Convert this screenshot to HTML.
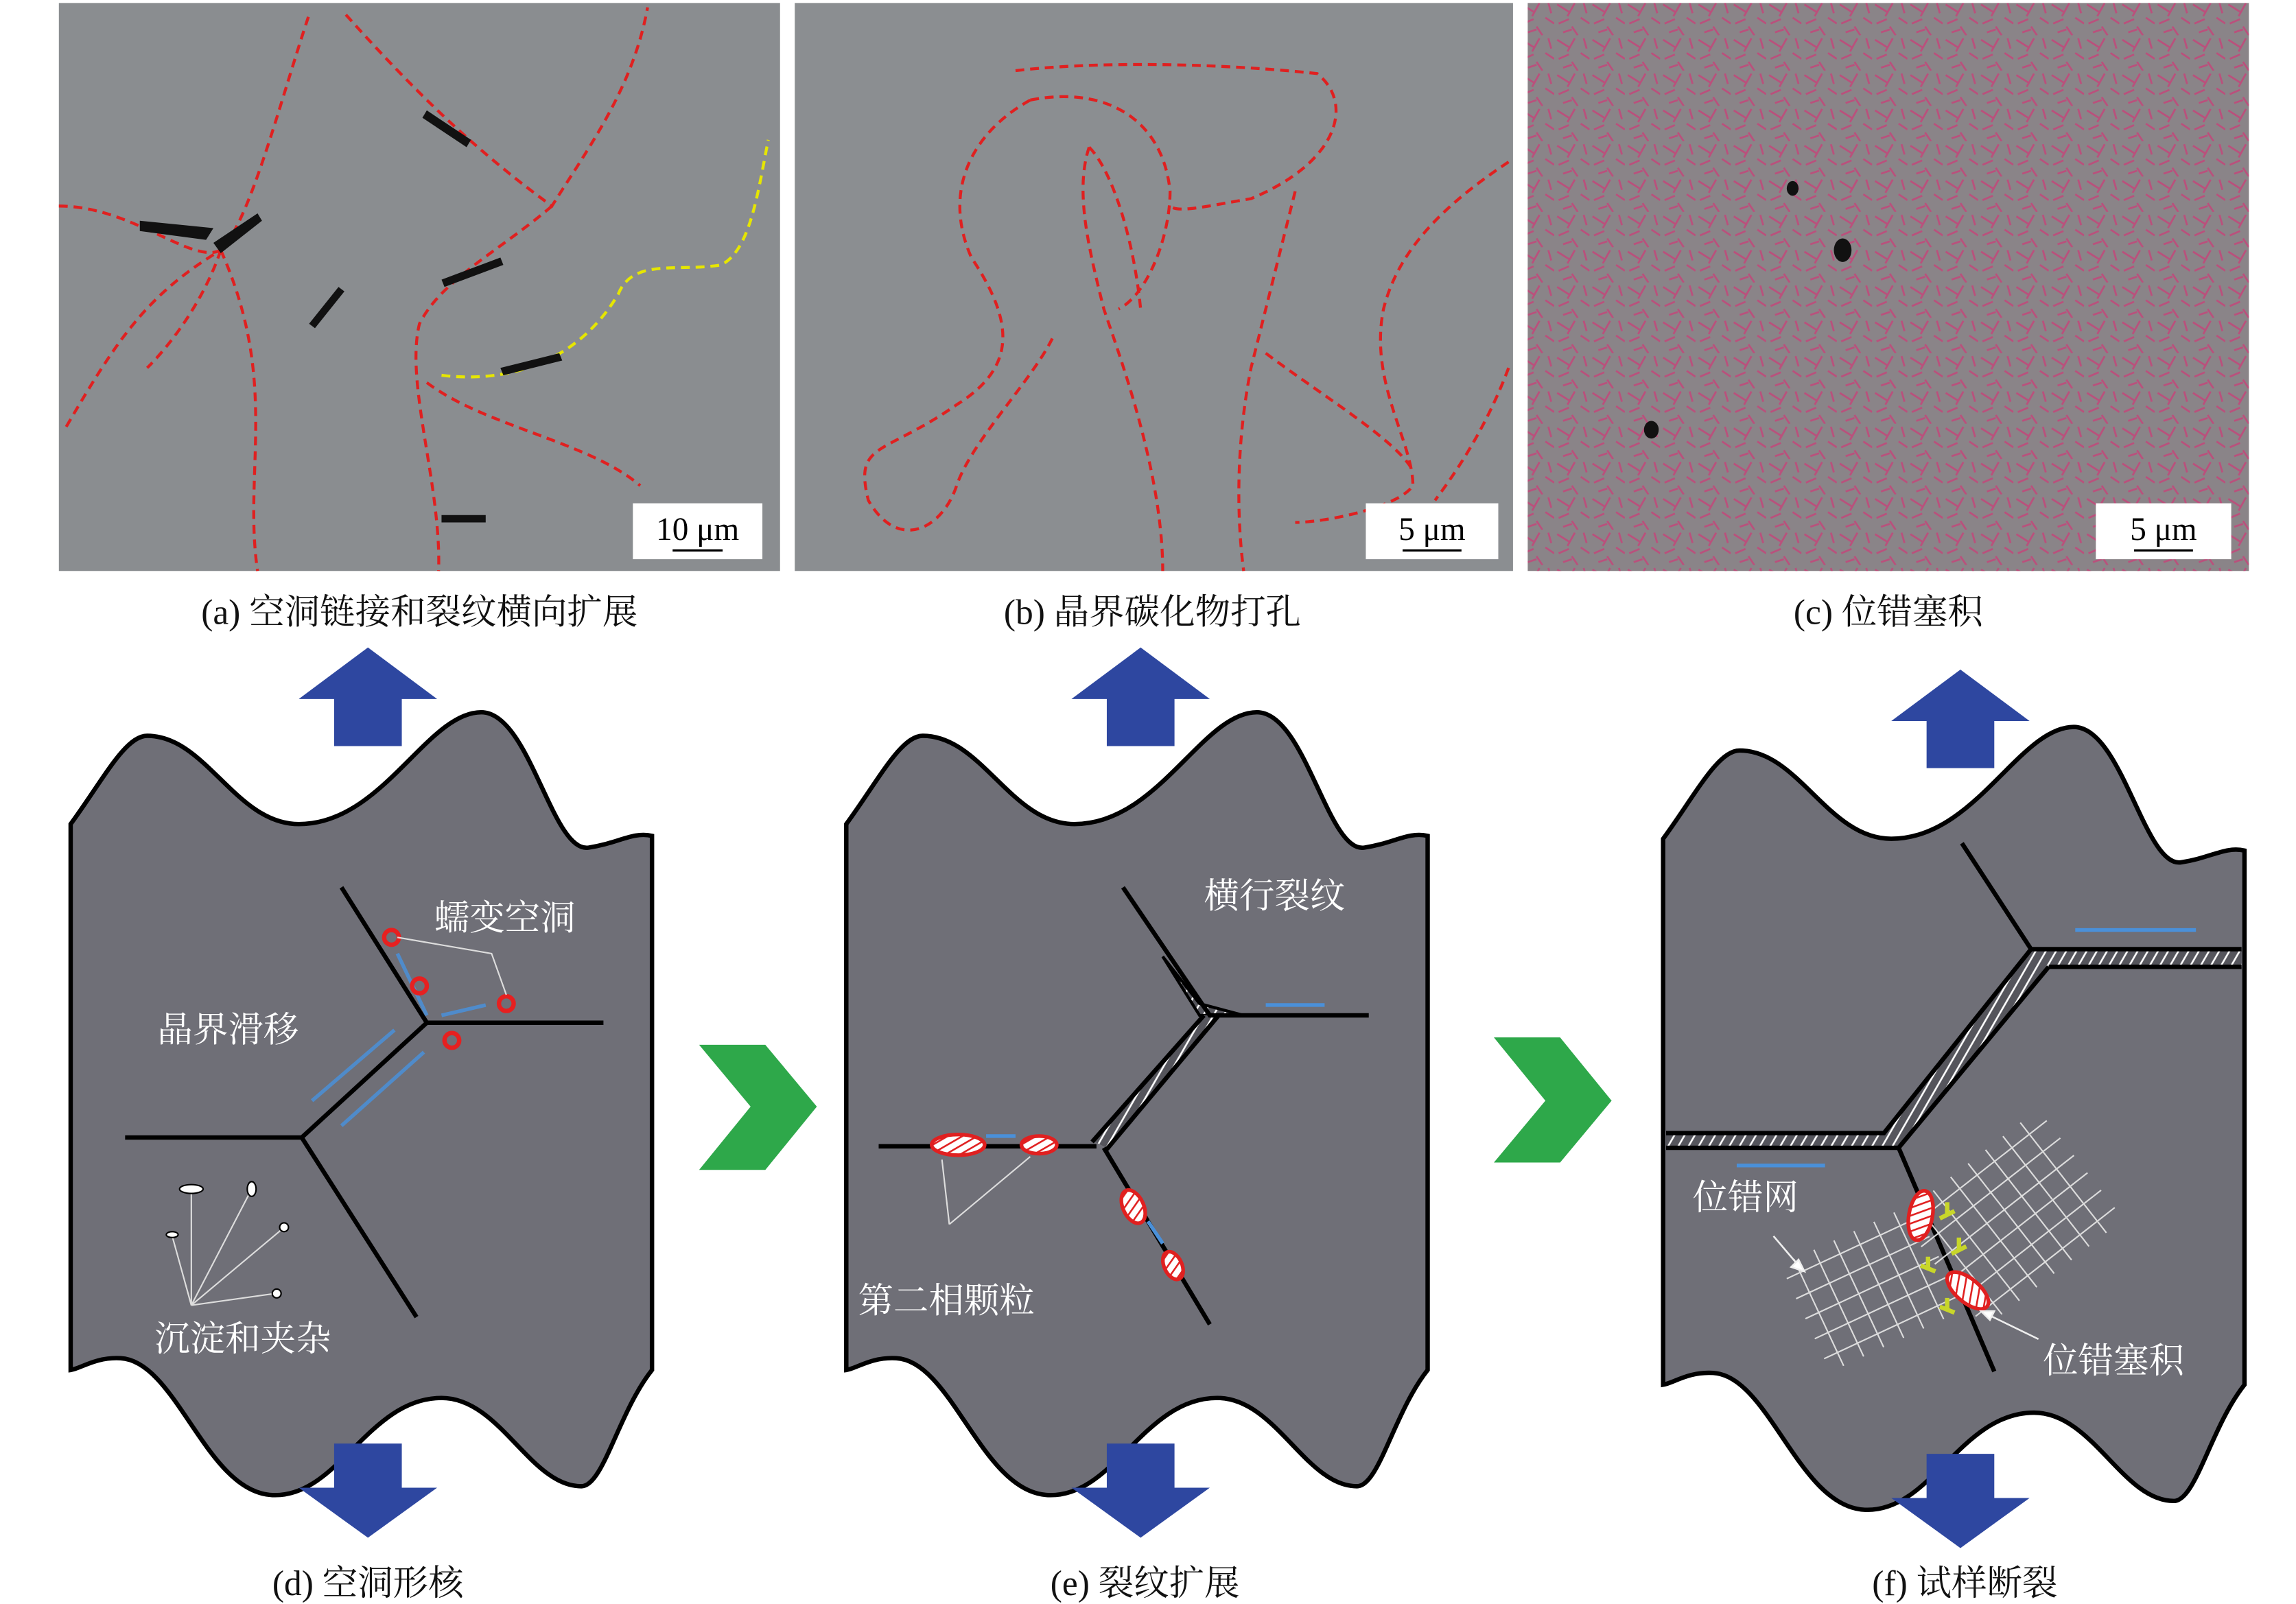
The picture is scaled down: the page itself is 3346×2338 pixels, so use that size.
<!DOCTYPE html>
<html><head><meta charset="utf-8"><style>
html,body{margin:0;padding:0;background:#fff;}
svg{display:block;}
text{font-family:"Liberation Serif","Noto Serif CJK SC",serif;}
</style></head><body>
<svg width="3346" height="2338" viewBox="0 0 1560 1090" xmlns="http://www.w3.org/2000/svg">
<defs>
<pattern id="pink" width="24" height="24" patternUnits="userSpaceOnUse">
<path d="M2 3 l8 5 M14 2 l-5 9 M18 12 l6 4 M3 16 l7 -3 M12 18 l4 6 M20 2 l2 7 M6 22 l6 -2" stroke="#c2477a" stroke-width="1.3" fill="none"/>
</pattern>
<pattern id="hatch" width="6" height="6" patternUnits="userSpaceOnUse" patternTransform="rotate(30)">
<rect width="6" height="6" fill="#55555c"/><line x1="3" y1="0" x2="3" y2="6" stroke="#fff" stroke-width="1.2"/>
</pattern>
<pattern id="redh" width="5" height="5" patternUnits="userSpaceOnUse" patternTransform="rotate(60)">
<rect width="5" height="5" fill="#fff"/><line x1="0" y1="0" x2="0" y2="5" stroke="#e02020" stroke-width="2.4"/>
</pattern>
<g id="shape">
<path d="M48,560 C70,530 85,500 100,500 C140,500 160,560 203,560 C260,560 290,484 327,484 C360,484 375,580 400,576 C420,573 430,565 443,568 L443,931 C420,960 410,1010 395,1010 C360,1010 340,950 300,950 C250,950 230,1018 185,1016 C140,1014 120,925 82,923 C65,922 55,930 48,931 Z" fill="#6f6f77" stroke="#000" stroke-width="3"/>
</g>
<g id="upar"><path d="M0,0 L47,-35 L94,0 L70,0 L70,32 L24,32 L24,0 Z" fill="#2e47a0"/></g>
<g id="dnar"><path d="M24,0 L70,0 L70,30 L94,30 L47,64 L0,30 L24,30 Z" fill="#2e47a0"/></g>
</defs>

<!-- micrographs -->
<rect x="40" y="2" width="490" height="386" fill="#8a8d90"/>
<g stroke="#e02020" stroke-width="2" stroke-dasharray="6,4" fill="none">
<path d="M40,140 C90,140 130,180 150,170 C170,150 190,70 210,10"/>
<path d="M45,290 C80,230 100,200 150,170"/>
<path d="M235,10 C280,60 320,100 375,140 C400,100 430,60 440,5"/>
<path d="M150,170 C190,260 165,320 175,388"/>
<path d="M375,140 C340,170 300,190 285,220 C275,260 300,330 298,388"/>
<path d="M290,260 C330,290 400,300 435,330"/>
<path d="M150,170 C140,200 120,230 100,250"/>
</g>
<path d="M300,255 C340,260 390,250 420,200 C430,175 460,185 490,180 C510,170 515,130 522,95" stroke="#e6e600" stroke-width="2" stroke-dasharray="6,4" fill="none"/>
<g fill="#111"><path d="M95,150 l50,5 l-5,8 l-45,-6z"/><path d="M145,165 l30,-20 l3,5 l-28,22z"/><path d="M290,75 l30,20 l-3,5 l-30,-20z"/><path d="M300,190 l40,-15 l2,5 l-40,15z"/><path d="M210,220 l20,-25 l4,3 l-20,25z"/><path d="M340,250 l40,-10 l2,5 l-40,10z"/><path d="M300,350 l30,0 l0,5 l-30,0z"/></g>
<rect x="430" y="342" width="88" height="38" fill="#fff"/>
<text x="474" y="367" font-size="22" text-anchor="middle">10 μm</text>
<line x1="457" y1="374" x2="491" y2="374" stroke="#000" stroke-width="1.5"/>

<rect x="540" y="2" width="488" height="386" fill="#8b8e91"/>
<g stroke="#e02020" stroke-width="2" stroke-dasharray="6,4" fill="none">
<path d="M690,48 C760,40 850,45 895,50 C920,70 910,110 850,135 C820,140 800,145 795,140"/>
<path d="M700,68 C750,58 790,80 795,130 C795,160 780,200 760,210"/>
<path d="M700,68 C660,90 640,130 660,175 C690,220 690,250 650,275 C600,310 580,300 590,340 C610,375 640,360 650,330 C660,300 700,260 715,230"/>
<path d="M740,100 C730,130 740,170 750,210 C760,240 790,320 790,388"/>
<path d="M740,100 C755,115 770,160 775,210"/>
<path d="M880,130 C870,170 860,210 850,250 C840,300 840,350 845,388"/>
<path d="M1025,110 C980,140 950,170 940,210 C930,260 960,300 960,330 C950,345 900,355 880,355"/>
<path d="M1025,250 C1010,290 990,320 975,340"/>
<path d="M860,240 C900,270 950,300 960,320"/>
</g>
<rect x="928" y="342" width="90" height="38" fill="#fff"/>
<text x="973" y="367" font-size="22" text-anchor="middle">5 μm</text>
<line x1="953" y1="374" x2="993" y2="374" stroke="#000" stroke-width="1.5"/>

<rect x="1038" y="2" width="490" height="386" fill="#8a8488"/>
<rect x="1038" y="2" width="490" height="386" fill="url(#pink)" opacity="0.85"/>
<ellipse cx="1252" cy="170" rx="6" ry="8" fill="#111"/><ellipse cx="1218" cy="128" rx="4" ry="5" fill="#111"/><ellipse cx="1122" cy="292" rx="5" ry="6" fill="#111"/>
<rect x="1424" y="342" width="92" height="38" fill="#fff"/>
<text x="1470" y="367" font-size="22" text-anchor="middle">5 μm</text>
<line x1="1450" y1="374" x2="1490" y2="374" stroke="#000" stroke-width="1.5"/>

<g font-size="24" text-anchor="middle" fill="#111">
<text x="285" y="424">(a) 空洞链接和裂纹横向扩展</text>
<text x="783" y="424">(b) 晶界碳化物打孔</text>
<text x="1283" y="424">(c) 位错塞积</text>
<text x="250" y="1084">(d) 空洞形核</text>
<text x="778" y="1084">(e) 裂纹扩展</text>
<text x="1335" y="1084">(f) 试样断裂</text>
</g>

<!-- panel d -->
<use href="#upar" transform="translate(203,475)"/>
<use href="#shape"/>
<use href="#dnar" transform="translate(203,981)"/>
<g stroke="#000" stroke-width="3" fill="none">
<path d="M232,603 L290,695 L410,695 M290,695 L205,773 L85,773 M205,773 L283,895"/>
</g>
<g stroke="#4a90d9" stroke-width="2.5" fill="none" opacity="0.85">
<path d="M212,748 L268,700"/><path d="M232,765 L288,715"/><path d="M270,648 L290,690 M300,690 L330,683"/>
</g>
<g fill="none" stroke="#e62020" stroke-width="3"><circle cx="266" cy="637" r="5"/><circle cx="285" cy="670" r="5"/><circle cx="344" cy="682" r="5"/><circle cx="307" cy="707" r="5"/></g>
<polyline points="270,637 334,648 344,676" stroke="#ddd" stroke-width="1" fill="none"/>
<g stroke="#ddd" stroke-width="1"><line x1="130" y1="887" x2="130" y2="810"/><line x1="130" y1="887" x2="117" y2="840"/><line x1="130" y1="887" x2="170" y2="810"/><line x1="130" y1="887" x2="192" y2="835"/><line x1="130" y1="887" x2="187" y2="879"/></g>
<g fill="#fff" stroke="#000" stroke-width="1"><ellipse cx="130" cy="808" rx="8" ry="3"/><ellipse cx="171" cy="808" rx="3" ry="5"/><ellipse cx="117" cy="839" rx="4" ry="2"/><circle cx="193" cy="834" r="3"/><circle cx="188" cy="879" r="3"/></g>
<g font-size="24" fill="#fff"><text x="295" y="632">蠕变空洞</text><text x="107" y="708">晶界滑移</text><text x="105" y="918">沉淀和夹杂</text></g>

<!-- chevrons -->
<path d="M475,710 L520,710 L555,752 L520,795 L475,795 L510,752 Z" fill="#2ea84a"/>
<path d="M1015,705 L1060,705 L1095,748 L1060,790 L1015,790 L1050,748 Z" fill="#2ea84a"/>

<!-- panel e -->
<use href="#upar" transform="translate(728,475)"/>
<use href="#shape" transform="translate(527,0)"/>
<use href="#dnar" transform="translate(728,981)"/>
<path d="M790,650 L815,682 L845,690 L815,690 Z" fill="url(#hatch)" stroke="#000" stroke-width="2"/>
<path d="M818,690 L742,775 L752,780 L828,690 Z" fill="url(#hatch)"/>
<g stroke="#000" stroke-width="3" fill="none">
<path d="M763,603 L822,690 L930,690 M818,690 L742,776 M828,690 L752,781 M597,779 L745,779 M750,780 L822,900"/>
</g>
<g stroke="#4a90d9" stroke-width="2.5"><line x1="860" y1="683" x2="900" y2="683"/><line x1="670" y1="772" x2="690" y2="772"/><line x1="780" y1="830" x2="790" y2="845"/></g>
<g fill="url(#redh)" stroke="#e02020" stroke-width="2.5">
<ellipse cx="651" cy="778" rx="18" ry="7"/><ellipse cx="706" cy="778" rx="12" ry="6"/><ellipse cx="770" cy="820" rx="7" ry="12" transform="rotate(-25 770 820)"/><ellipse cx="797" cy="860" rx="6" ry="10" transform="rotate(-25 797 860)"/>
</g>
<g stroke="#ddd" stroke-width="1"><line x1="645" y1="832" x2="640" y2="788"/><line x1="645" y1="832" x2="700" y2="786"/></g>
<g font-size="24" fill="#fff"><text x="818" y="617">横行裂纹</text><text x="583" y="892">第二相颗粒</text></g>

<!-- panel f -->
<use href="#upar" transform="translate(1285,490)"/>
<use href="#shape" transform="translate(1082,10)"/>
<use href="#dnar" transform="translate(1285,988)"/>
<path d="M1380,645 L1523,645 L1523,657 L1392,657 L1290,780 L1132,780 L1132,770 L1280,770 Z" fill="url(#hatch)"/>
<g stroke="#000" stroke-width="3" fill="none">
<path d="M1333,573 L1380,645 L1523,645 M1392,657 L1523,657 M1380,645 L1280,770 L1132,770 M1392,657 L1290,780 L1132,780 M1290,780 L1355,932"/>
</g>
<g stroke="#4a90d9" stroke-width="2.5"><line x1="1410" y1="632" x2="1492" y2="632"/><line x1="1180" y1="792" x2="1240" y2="792"/></g>
<g stroke="#e8e8e8" stroke-width="1" opacity="0.9">
<g transform="translate(1368,830) rotate(-38)">
<path d="M-60,-40 H60 M-60,-25 H60 M-60,-10 H60 M-60,5 H60 M-60,20 H60 M-60,35 H60 M-45,-50 V45 M-30,-50 V45 M-15,-50 V45 M0,-50 V45 M15,-50 V45 M30,-50 V45 M45,-50 V45"/>
</g>
<g transform="translate(1272,875) rotate(-25)">
<path d="M-50,-30 H50 M-50,-15 H50 M-50,0 H50 M-50,15 H50 M-50,30 H50 M-40,-40 V40 M-25,-40 V40 M-10,-40 V40 M5,-40 V40 M20,-40 V40 M35,-40 V40"/>
</g>
</g>
<g stroke="#c8d62a" stroke-width="3" fill="none">
<path d="M1318,828 l10,-5 M1323,825 v-8"/><path d="M1326,852 l10,-5 M1331,849 v-8"/><path d="M1305,860 l10,4 M1310,862 v-8"/><path d="M1318,888 l10,4 M1323,890 v-8"/>
</g>
<g fill="url(#redh)" stroke="#e02020" stroke-width="2.5">
<ellipse cx="1305" cy="826" rx="8" ry="17" transform="rotate(10 1305 826)"/><ellipse cx="1337" cy="877" rx="8" ry="17" transform="rotate(-50 1337 877)"/>
</g>
<g stroke="#eee" stroke-width="1.2" fill="#fff"><line x1="1205" y1="840" x2="1222" y2="860"/><path d="M1226,864 l-9,-3 l5,-5z"/><line x1="1385" y1="910" x2="1350" y2="893"/><path d="M1346,891 l9,0 l-3,6z"/></g>
<g font-size="24" fill="#fff"><text x="1150" y="822">位错网</text><text x="1388" y="933">位错塞积</text></g>
</svg>
</body></html>
